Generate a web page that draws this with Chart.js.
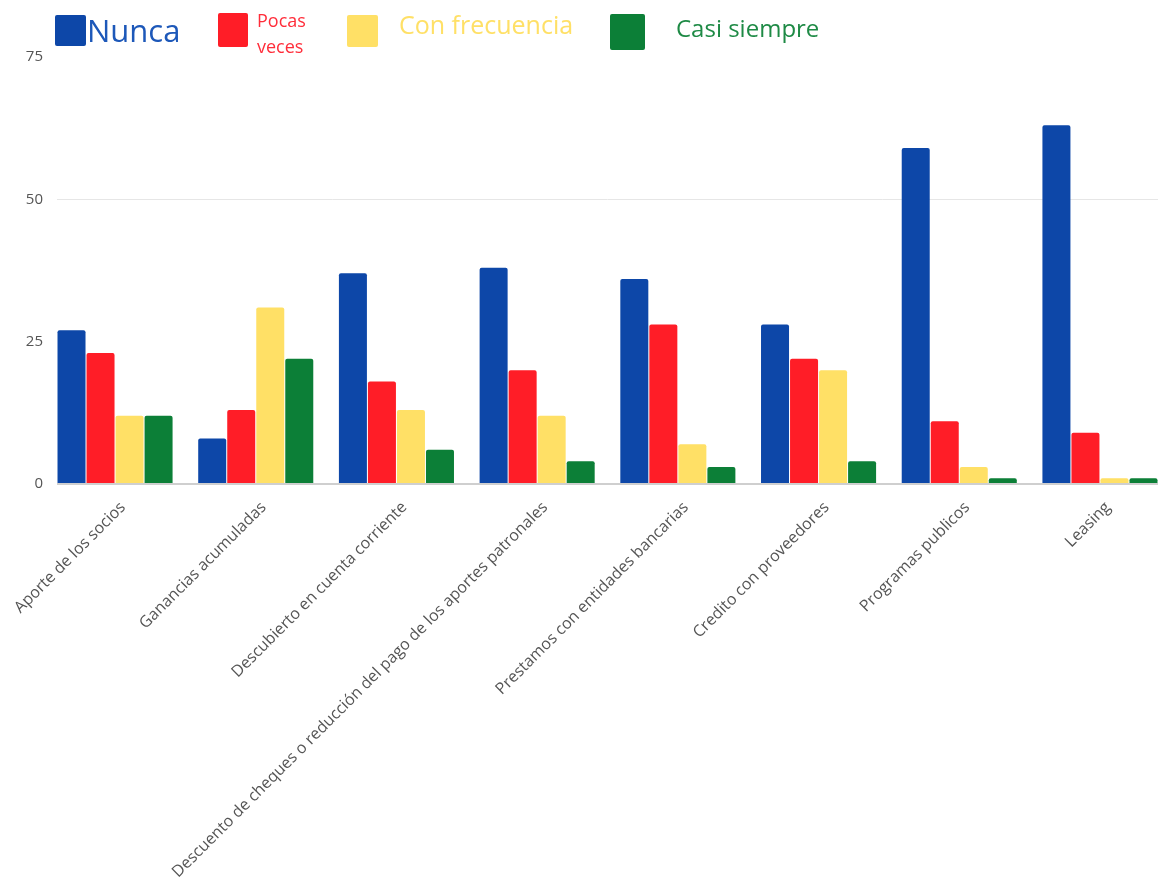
<!DOCTYPE html>
<html lang="es">
<head>
<meta charset="utf-8">
<title>Fuentes de financiamiento</title>
<script src="https://cdn.jsdelivr.net/npm/chart.js@4.4.1/dist/chart.umd.min.js"></script>
<style>
  html, body { margin: 0; padding: 0; background: #ffffff; }
  #wrap { position: relative; width: 1162px; height: 886px; overflow: hidden; }
  #chart { position: absolute; left: 0; top: 0; }
  .lg-box { position: absolute; }
  .lg-text { position: absolute; font-family: 'Open Sans', sans-serif; white-space: nowrap; }
</style>
</head>
<body>
<div id="wrap">
  <canvas id="chart" width="1162" height="886"></canvas>
  <div id="legend"></div>
</div>
<script>
// Categories (financing sources)
const categories = [
  'Aporte de los socios',
  'Ganancias acumuladas',
  'Descubierto en cuenta corriente',
  'Descuento de cheques o reducción del pago de los aportes patronales',
  'Prestamos con entidades bancarias',
  'Credito con proveedores',
  'Programas publicos',
  'Leasing'
];

// Series names
const seriesNames = ['Nunca', 'Pocas veces', 'Con frecuencia', 'Casi siempre'];

// Responses per category
const nunca         = [27,  8, 37, 38, 36, 28, 59, 63];
const pocasVeces    = [23, 13, 18, 20, 28, 22, 11,  9];
const conFrecuencia = [12, 31, 13, 12,  7, 20,  3,  1];
const casiSiempre   = [12, 22,  6,  4,  3,  4,  1,  1];

// Value axis ticks
const yTicks = [0, 25, 50, 75];

const seriesValues = [nunca, pocasVeces, conFrecuencia, casiSiempre];
const barColors = ['#0d47a8', '#ff1d27', '#ffe066', '#0c7f37'];

const datasets = seriesNames.map((name, s) => ({
  label: name,
  data: seriesValues[s].map((v, i) => ({ x: i, y: v })),
  backgroundColor: barColors[s],
  borderRadius: 2,
  borderSkipped: 'bottom',
  categoryPercentage: 0.825,
  barPercentage: 0.965
}));

// Groups sit flush with both ends of the plot area
const edge = 0.4125;

const chart = new Chart(document.getElementById('chart'), {
  type: 'bar',
  data: { datasets },
  options: {
    responsive: false,
    animation: false,
    events: [],
    layout: { padding: { top: 57, right: 4, left: 0, bottom: 0 } },
    plugins: { legend: { display: false }, tooltip: { enabled: false } },
    scales: {
      x: {
        type: 'linear',
        offset: false,
        bounds: 'data',
        min: -edge,
        max: categories.length - 1 + edge,
        grid: { display: false },
        border: { display: false },
        afterFit: (scale) => { scale.height = 402; },
        afterBuildTicks: (scale) => { scale.ticks = categories.map((_, i) => ({ value: i })); },
        ticks: {
          autoSkip: false,
          minRotation: 45,
          maxRotation: 45,
          padding: 6,
          labelOffset: 8,
          color: '#555555',
          font: { family: 'Open Sans', size: 16 },
          callback: (value) => categories[value] ?? ''
        }
      },
      y: {
        min: 0,
        max: 75,
        afterFit: (scale) => { scale.width = 57; },
        afterBuildTicks: (scale) => { scale.ticks = yTicks.map(v => ({ value: v })); },
        border: { display: false },
        grid: {
          drawTicks: false,
          color: (ctx) => ctx.tick && ctx.tick.value === 0 ? '#cfcfcf'
                        : (ctx.tick && ctx.tick.value === 50 ? '#e6e6e6' : 'rgba(0,0,0,0)'),
          lineWidth: (ctx) => ctx.tick && ctx.tick.value === 0 ? 2 : 1
        },
        ticks: {
          padding: 14,
          color: '#555555',
          font: { family: 'Open Sans', size: 15 }
        }
      }
    }
  }
});

// Legend built from the chart's datasets, each entry with its own look
const legendLayout = [
  { box: [55, 15, 31, 31], text: [87, 9],  size: 31, color: '#1d58b9', lines: ['Nunca'] },
  { box: [218, 13, 30, 34], text: [257, 7], size: 18, color: '#ff2d3a', lines: ['Pocas', 'veces'], lh: 26 },
  { box: [347, 15, 31, 32], text: [399, 7], size: 25, color: '#ffe066', lines: null },
  { box: [610, 14, 35, 36], text: [676, 12], size: 24, color: '#1e8a45', lines: null }
];
const legendEl = document.getElementById('legend');
chart.data.datasets.forEach((ds, i) => {
  const L = legendLayout[i];
  const box = document.createElement('div');
  box.className = 'lg-box';
  Object.assign(box.style, {
    left: L.box[0] + 'px', top: L.box[1] + 'px',
    width: L.box[2] + 'px', height: L.box[3] + 'px',
    background: ds.backgroundColor, borderRadius: '2px'
  });
  legendEl.appendChild(box);
  const txt = document.createElement('div');
  txt.className = 'lg-text';
  Object.assign(txt.style, {
    left: L.text[0] + 'px', top: L.text[1] + 'px',
    fontSize: L.size + 'px', color: L.color,
    lineHeight: (L.lh || Math.round(L.size * 1.35)) + 'px'
  });
  (L.lines || [ds.label]).forEach((line, k) => {
    if (k) txt.appendChild(document.createElement('br'));
    txt.appendChild(document.createTextNode(line));
  });
  legendEl.appendChild(txt);
});
</script>
</body>
</html>
